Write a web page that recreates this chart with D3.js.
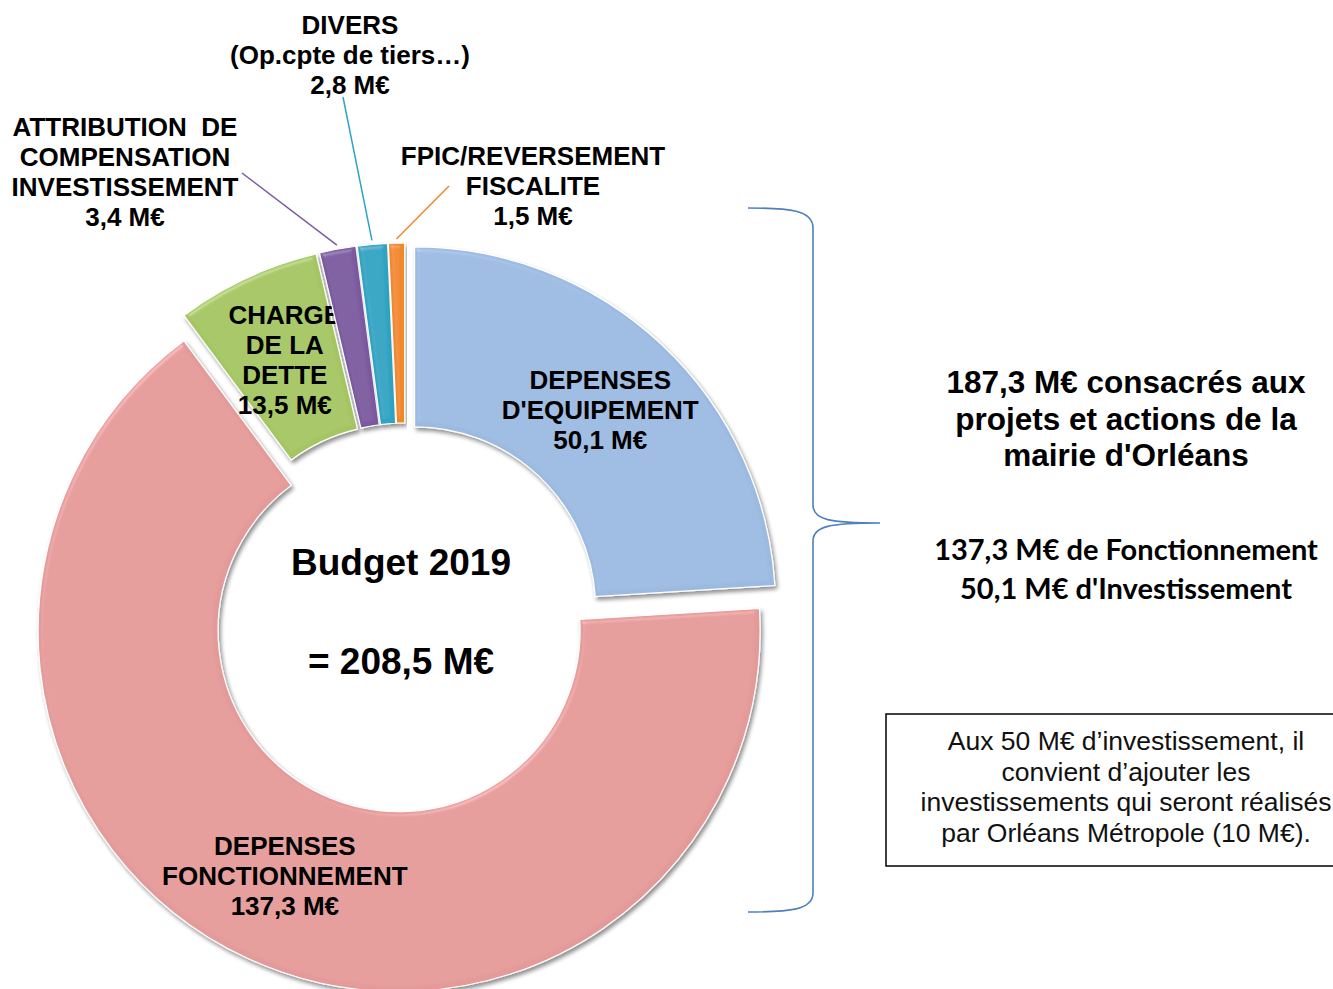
<!DOCTYPE html>
<html>
<head>
<meta charset="utf-8">
<script src="https://cdn.jsdelivr.net/npm/d3@7"></script>
<style>
  body { margin: 0; background: #fff; }
  svg { display: block; }
  text { font-family: "Liberation Sans", Arial, sans-serif; }
</style>
</head>
<body>
<div id="chart"><svg width="1333" height="989"></svg></div>
<script>
// Data
const categories = ["DEPENSES D'EQUIPEMENT", "DEPENSES FONCTIONNEMENT", "CHARGE DE LA DETTE",
  "ATTRIBUTION DE COMPENSATION INVESTISSEMENT", "DIVERS (Op.cpte de tiers…)", "FPIC/REVERSEMENT FISCALITE"];
const values = [50.1, 137.3, 13.5, 3.4, 2.8, 1.5];
const labelLines = [
  ["DEPENSES", "D'EQUIPEMENT", "50,1 M€"],
  ["DEPENSES", "FONCTIONNEMENT", "137,3 M€"],
  ["CHARGE", "DE LA", "DETTE", "13,5 M€"],
  ["ATTRIBUTION\u00a0 DE", "COMPENSATION", "INVESTISSEMENT", "3,4 M€"],
  ["DIVERS", "(Op.cpte de tiers…)", "2,8 M€"],
  ["FPIC/REVERSEMENT", "FISCALITE", "1,5 M€"]
];
const colors = ["#9CBAE0", "#E39A99", "#A5C562", "#7B599F", "#2DA4C2", "#F0882A"];
const centerLines = ["Budget 2019", "= 208,5 M€"];
const summaryLines = ["187,3 M€ consacrés aux", "projets et actions de la", "mairie d'Orléans"];
const detailLines = ["137,3 M€ de Fonctionnement", "50,1 M€ d'Investissement"];
const noteLines = ["Aux 50 M€ d’investissement, il", "convient d’ajouter les",
  "investissements qui seront réalisés", "par Orléans Métropole (10 M€)."];

let svg = d3.select("div#chart svg");

// Bevel + shadow look of the slices
let defs = svg.append("defs");
let f = defs.append("filter").attr("id", "bevel")
  .attr("x", "-10%").attr("y", "-10%").attr("width", "120%").attr("height", "120%");
f.append("feGaussianBlur").attr("in", "SourceAlpha").attr("stdDeviation", 2.5).attr("result", "blur");
f.append("feSpecularLighting").attr("in", "blur").attr("surfaceScale", 4)
  .attr("specularConstant", 0.5).attr("specularExponent", 22)
  .attr("lighting-color", "#ffffff").attr("result", "spec")
  .append("feDistantLight").attr("azimuth", 235).attr("elevation", 40);
f.append("feComposite").attr("in", "spec").attr("in2", "SourceAlpha").attr("operator", "in").attr("result", "specIn");
f.append("feComposite").attr("in", "SourceGraphic").attr("in2", "specIn").attr("operator", "arithmetic")
  .attr("k1", 0).attr("k2", 1).attr("k3", 0.35).attr("k4", 0).attr("result", "lit");
f.append("feOffset").attr("in", "SourceAlpha").attr("dx", 2).attr("dy", 3).attr("result", "off");
f.append("feGaussianBlur").attr("in", "off").attr("stdDeviation", 2).attr("result", "offBlur");
f.append("feComponentTransfer").attr("in", "offBlur").attr("result", "shadow")
  .append("feFuncA").attr("type", "linear").attr("slope", 0.45);
let merge = f.append("feMerge");
merge.append("feMergeNode").attr("in", "shadow");
merge.append("feMergeNode").attr("in", "lit");

// Donut
let cx = 405, cy = 618, R = 361, r = 181, explode = 14;
let pie = d3.pie().sort(null).value(d => d);
let arcs = pie(values);
let arc = d3.arc().innerRadius(r).outerRadius(R);

let g = svg.append("g").attr("transform", "translate(" + cx + "," + cy + ")");

let slice = g.selectAll("g.slice")
  .data(arcs)
  .enter()
  .append("g")
    .attr("class", "slice")
    .attr("transform", d => {
      let a = (d.startAngle + d.endAngle) / 2;
      return "translate(" + (explode * Math.sin(a)) + "," + (-explode * Math.cos(a)) + ")";
    });

slice.append("path")
  .attr("d", arc)
  .attr("fill", (d, i) => colors[i])
  .attr("stroke", "#ffffff")
  .attr("stroke-width", 1.2)
  .attr("filter", "url(#bevel)");

// Labels inside the three big slices
let lineH = 30;
slice.filter((d, i) => i < 3)
  .append("text")
    .attr("transform", d => "translate(" + arc.centroid(d) + ")")
    .style("font-size", "26px")
    .style("font-weight", "bold")
    .style("text-anchor", "middle")
    .style("fill", "#000")
    .each(function(d) {
      let lines = labelLines[d.index];
      let t = d3.select(this);
      lines.forEach((s, k) => {
        t.append("tspan")
          .attr("x", 0)
          .attr("y", (k - (lines.length - 1) / 2) * lineH + 9)
          .text(s);
      });
    });

// Outside labels for the small slices
let outside = [
  { i: 3, x: 125, y: 127, lx: 242, ly: 173 },
  { i: 4, x: 350, y: 25, lx: 343, ly: 97 },
  { i: 5, x: 533, y: 156, lx: 449, ly: 186 }
];

outside.forEach(o => {
  let d = arcs[o.i];
  let a = (d.startAngle + d.endAngle) / 2;
  let ex = cx + (explode + R + 4) * Math.sin(a);
  let ey = cy - (explode + R + 4) * Math.cos(a);
  svg.append("line")
    .attr("x1", o.lx).attr("y1", o.ly)
    .attr("x2", ex).attr("y2", ey)
    .attr("stroke", colors[o.i])
    .attr("stroke-width", 1.5);

  let t = svg.append("text")
    .style("font-size", "26px")
    .style("font-weight", "bold")
    .style("text-anchor", "middle");
  labelLines[o.i].forEach((s, k) => {
    t.append("tspan")
      .attr("x", o.x)
      .attr("y", o.y + k * lineH + 9)
      .text(s);
  });
});

// Center title
svg.append("text")
  .attr("x", 401).attr("y", 575)
  .style("font-size", "37px").style("font-weight", "bold").style("text-anchor", "middle")
  .text(centerLines[0]);
svg.append("text")
  .attr("x", 401).attr("y", 674)
  .style("font-size", "37px").style("font-weight", "bold").style("text-anchor", "middle")
  .text(centerLines[1]);

// Brace
let brace = d3.path();
brace.moveTo(748, 208);
brace.bezierCurveTo(790, 208, 813, 210, 813, 228);
brace.lineTo(813, 505);
brace.bezierCurveTo(813, 520, 830, 523, 880, 523);
brace.bezierCurveTo(830, 523, 813, 526, 813, 541);
brace.lineTo(813, 893);
brace.bezierCurveTo(813, 910, 790, 912, 748, 912);
svg.append("path")
  .attr("d", brace.toString())
  .attr("fill", "none")
  .attr("stroke", "#4F81BD")
  .attr("stroke-width", 1.6);

// Right hand texts
let summary = svg.append("text")
  .style("font-size", "31.5px").style("font-weight", "bold").style("text-anchor", "middle");
summaryLines.forEach((s, k) => {
  summary.append("tspan").attr("x", 1126).attr("y", 393 + k * 36.5).text(s);
});

let detail = svg.append("text")
  .style("font-family", "Lato, 'Open Sans', sans-serif")
  .style("font-size", "29px").style("font-weight", "bold").style("text-anchor", "middle");
detailLines.forEach((s, k) => {
  detail.append("tspan").attr("x", 1126).attr("y", 560 + k * 39).text(s);
});

// Note box
svg.append("rect")
  .attr("x", 886).attr("y", 714)
  .attr("width", 470).attr("height", 152)
  .attr("fill", "#fff")
  .attr("stroke", "#000")
  .attr("stroke-width", 1.5);

let note = svg.append("text")
  .style("font-size", "26.5px").style("text-anchor", "middle").style("fill", "#111");
noteLines.forEach((s, k) => {
  note.append("tspan").attr("x", 1126).attr("y", 750 + k * 30.5).text(s);
});
</script>
</body>
</html>
